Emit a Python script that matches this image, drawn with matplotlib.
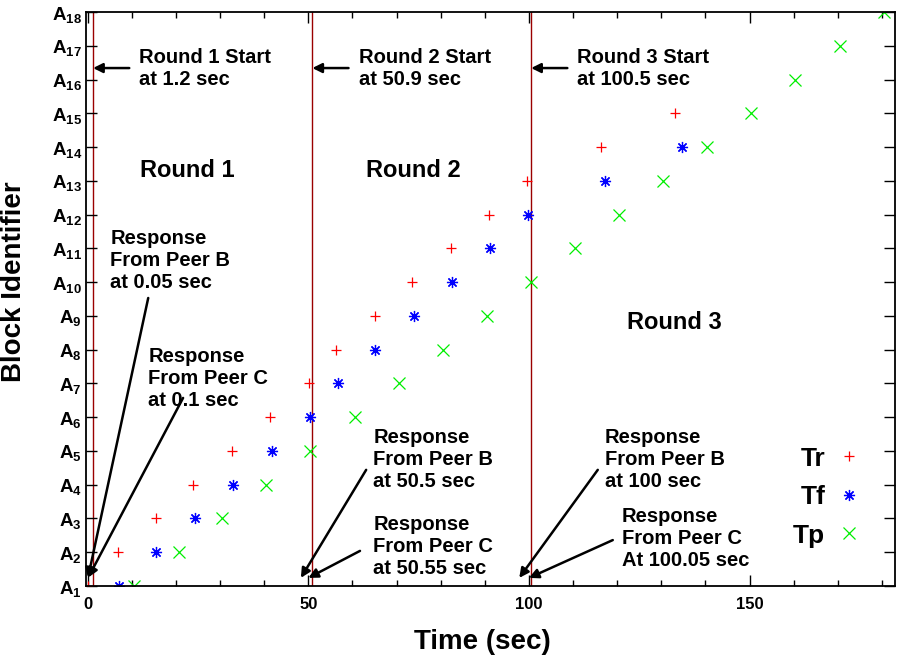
import numpy as np
import matplotlib
matplotlib.use("Agg")
import matplotlib.pyplot as plt

# Fuente tipo Arial en negrita para todo
plt.rcParams['font.family'] = ['Liberation Sans', 'DejaVu Sans']
plt.rcParams['font.weight'] = 'bold'
plt.rcParams['mathtext.fontset'] = 'custom'
plt.rcParams['mathtext.bf'] = 'Liberation Sans:bold'
plt.rcParams['mathtext.rm'] = 'Liberation Sans:bold'
plt.rcParams['mathtext.default'] = 'bf'

# Tiempos (seg) de cada bloque
tr_time = [0.05, 6.9, 15.5, 23.9, 32.7, 41.3, 50.2, 56.3, 65.1, 73.5, 82.3,
           90.9, 99.6, 116.3, 133.0]
tr_block = list(range(1, 16))
tf_time = [7.1, 15.5, 24.4, 33.0, 41.7, 50.4, 56.7, 65.1, 73.9, 82.5, 91.1,
           99.7, 117.2, 134.6]
tf_block = list(range(1, 15))
tp_time = [10.5, 20.6, 30.5, 40.4, 50.4, 60.6, 70.5, 80.5, 90.5, 100.4, 110.4,
           120.4, 130.4, 140.4, 150.4, 160.4, 170.4, 180.4]
tp_block = list(range(1, 19))

# Inicio de cada ronda
round_start = [1.2, 50.9, 100.5]
round_names = ["Round 1", "Round 2", "Round 3"]
block_labels = [r"$A_{%d}$" % i for i in range(1, 19)]

fig = plt.figure(figsize=(8.97, 6.56), dpi=100)
ax = fig.add_axes([0.0959, 0.1067, 0.902, 0.875])

for x in round_start:
    ax.axvline(x, color='#9a0000', lw=1.0, zorder=1)

ax.plot(tr_time, tr_block, '+', color='red', ms=7.5, mew=0.9, label='Tr')
ax.plot(tf_time, tf_block, marker=(8, 2, 0), ls='none', color='blue', ms=8,
        mew=0.9, label='Tf')
ax.plot(tp_time, tp_block, 'x', color='#00ee00', ms=8, mew=0.9, label='Tp')

ax.set_xlim(-0.4, 183)
ax.set_ylim(1, 18)
ax.set_xticks([0, 50, 100, 150])
ax.set_xticks(np.arange(0, 181, 10), minor=True)
ax.set_yticks(range(1, 19))
ax.set_yticklabels(block_labels)
ax.tick_params(which='both', direction='in', top=True, right=True, width=1.0)
ax.tick_params(which='major', length=8)
ax.tick_params(which='minor', length=4)
ax.tick_params(axis='x', labelsize=12, pad=8)
ax.tick_params(axis='y', labelsize=13.5, pad=3)
for s in ax.spines.values():
    s.set_linewidth(1.3)

ax.set_xlabel("Time (sec)", fontsize=20, fontweight='bold')
ax.set_ylabel("Block Identifier", fontsize=20, fontweight='bold')
ax.xaxis.set_label_coords(0.49, -0.075)
ax.yaxis.set_label_coords(-0.073, 0.53)

arrow = dict(arrowstyle='-|>', color='k', lw=1.8, mutation_scale=14,
             shrinkA=0, shrinkB=0)
fs = 14.5

# Inicio de rondas
start_txt = ["Round 1 Start\nat 1.2 sec", "Round 2 Start\nat 50.9 sec",
             "Round 3 Start\nat 100.5 sec"]
for x, t in zip(round_start, start_txt):
    ax.annotate("", xy=(x, 16.34), xytext=(x + 8.2, 16.34), arrowprops=arrow)
    ax.text(x + 10.5, 16.34, t, fontsize=fs, va='center', ha='left')

# Etiquetas de cada ronda
ax.text(22.5, 13.32, round_names[0], fontsize=17, ha='center', va='center')
ax.text(73.9, 13.32, round_names[1], fontsize=17, ha='center', va='center')
ax.text(133.0, 8.79, round_names[2], fontsize=17, ha='center', va='center')

# Respuestas de los peers
ax.text(5.1, 10.63, "Response\nFrom Peer B\nat 0.05 sec", fontsize=fs, va='center')
ax.text(13.7, 7.16, "Response\nFrom Peer C\nat 0.1 sec", fontsize=fs, va='center')
ax.annotate("", xy=(0.05, 1.25), xytext=(13.7, 9.53), arrowprops=arrow)
ax.annotate("", xy=(0.1, 1.25), xytext=(21.6, 6.57), arrowprops=arrow)

ax.text(64.7, 4.76, "Response\nFrom Peer B\nat 50.5 sec", fontsize=fs, va='center')
ax.text(64.7, 2.18, "Response\nFrom Peer C\nat 50.55 sec", fontsize=fs, va='center')
ax.annotate("", xy=(48.3, 1.24), xytext=(63.1, 4.44), arrowprops=arrow)
ax.annotate("", xy=(50.0, 1.24), xytext=(61.7, 2.04), arrowprops=arrow)

ax.text(117.2, 4.76, "Response\nFrom Peer B\nat 100 sec", fontsize=fs, va='center')
ax.text(121.0, 2.42, "Response\nFrom Peer C\nAt 100.05 sec", fontsize=fs, va='center')
ax.annotate("", xy=(97.8, 1.24), xytext=(115.6, 4.44), arrowprops=arrow)
ax.annotate("", xy=(100.0, 1.24), xytext=(119.0, 2.36), arrowprops=arrow)

leg = ax.legend(loc='center', bbox_to_anchor=(0.915, 0.155), frameon=False,
                markerfirst=False, fontsize=19, handlelength=0.8,
                handletextpad=0.5, labelspacing=0.55)

fig.savefig("out.png", dpi=100)
